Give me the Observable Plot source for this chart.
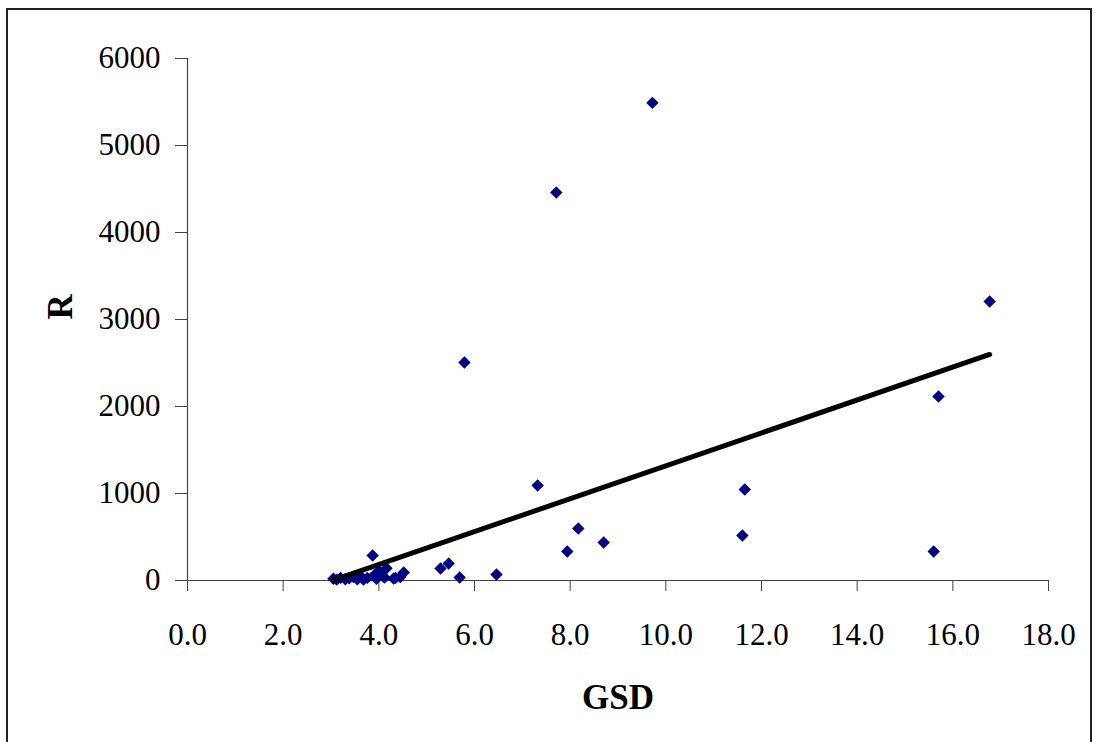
<!DOCTYPE html>
<html>
<head>
<meta charset="utf-8">
<script src="https://cdn.jsdelivr.net/npm/d3@7"></script>
<script src="https://cdn.jsdelivr.net/npm/@observablehq/plot@0.6"></script>
<style>
  html, body { margin: 0; padding: 0; background: #fff; }
  #wrap { position: relative; width: 1095px; height: 742px; overflow: hidden; }
  #border { position: absolute; left: 6px; top: 8px; width: 1086px; height: 760px; border: 2px solid #222; box-sizing: border-box; }
  #chart { position: absolute; left: 0; top: 0; }
</style>
</head>
<body>
<div id="wrap"><div id="border"></div><div id="chart"></div></div>
<script>
const gsd = [9.72, 7.71, 16.77, 5.79, 15.70, 7.32, 11.65, 8.17, 11.60, 8.70, 7.94, 15.60,
             6.46, 5.69, 5.46, 5.29, 4.52, 4.45, 4.31, 3.87,
             3.05, 3.12, 3.20, 3.30, 3.38, 3.47, 3.55, 3.62, 3.68, 3.76, 3.90, 3.95, 4.00, 4.05, 4.12, 4.16, 4.35];
const rVals = [5490, 4460, 3207, 2506, 2115, 1092, 1046, 598, 517, 437, 333, 333,
             69, 34, 195, 138, 92, 40, 23, 287,
             20, 10, 30, 15, 25, 40, 15, 50, 10, 30, 60, 20, 110, 70, 35, 140, 30];
const xTicks = [0, 2, 4, 6, 8, 10, 12, 14, 16, 18];
const yTicks = [0, 1000, 2000, 3000, 4000, 5000, 6000];
const trendSlope = 189.1;
const trendIntercept = -573;
const xTitle = "GSD";
const yTitle = "R";

const points = gsd.map((g, i) => ({gsd: g, r: rVals[i]}));
const xMin = d3.min(gsd), xMax = d3.max(gsd);
const trend = [xMin, xMax].map(g => ({gsd: g, r: trendIntercept + trendSlope * g}));

const font = "'Liberation Serif', 'Times New Roman', serif";
const chart = Plot.plot({
  width: 1095,
  height: 742,
  marginLeft: 187,
  marginRight: 47,
  marginTop: 58,
  marginBottom: 162,
  style: {fontFamily: font, fontSize: "31px", color: "#000", background: "transparent"},
  x: {domain: [0, 18]},
  y: {domain: [0, 6000]},
  marks: [
    Plot.axisX({ticks: xTicks, tickFormat: d => d.toFixed(1), tickSize: 11, tickPadding: 31, label: null, stroke: "#444", fontSize: 31}),
    Plot.axisY({ticks: yTicks, tickFormat: d => String(d), tickSize: 12, tickPadding: 15, label: null, stroke: "#444", fontSize: 31}),
    Plot.ruleX([0], {stroke: "#444", strokeWidth: 1.2}),
    Plot.ruleY([0], {stroke: "#444", strokeWidth: 1.2}),
    Plot.dot(points, {x: "gsd", y: "r", symbol: "diamond2", r: 5.6, fill: "#000080", stroke: "none"}),
    Plot.line(trend, {x: "gsd", y: "r", stroke: "#000", strokeWidth: 5, strokeLinecap: "round"}),
    Plot.text([xTitle], {frameAnchor: "bottom", text: d => d, dy: 128, lineAnchor: "bottom", fontSize: 35, fontWeight: "bold"}),
    Plot.text([yTitle], {frameAnchor: "left", text: d => d, dx: -127, rotate: -90, lineAnchor: "middle", fontSize: 35, fontWeight: "bold"})
  ]
});
document.getElementById("chart").appendChild(chart);
</script>
</body>
</html>
